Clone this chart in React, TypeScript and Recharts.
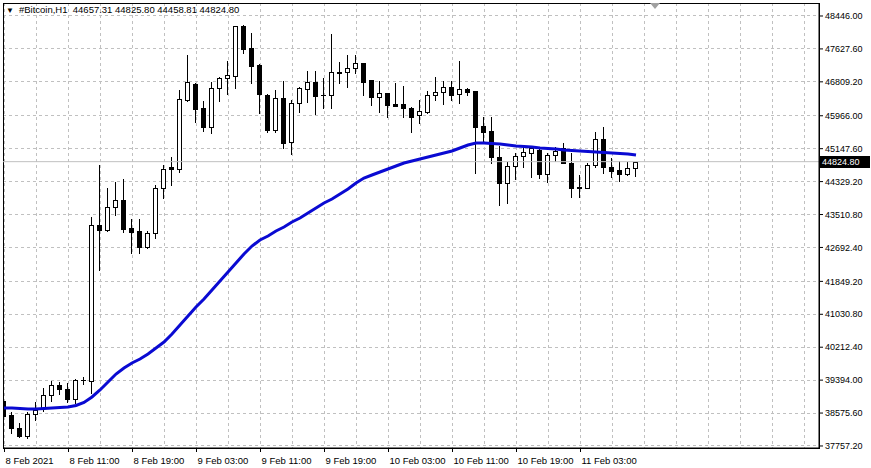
import { Bar, CartesianGrid, ComposedChart, Line, ReferenceArea, ReferenceLine, XAxis, YAxis } from 'recharts'

// hourly bars, 8 Feb 2021 03:00 .. 11 Feb 2021 10:00
const opens = [
  38875, 38527, 38204, 38005, 38552, 38701, 39024, 39273, 39173, 38925,
  39397, 39372, 43250, 43126, 43698, 43872, 43176, 43101, 42704, 43052,
  44170, 44692, 44643, 46358, 46756, 46159, 45687, 46656, 46905, 46955,
  48198, 47651, 47228, 46482, 45612, 46408, 45314, 46283, 46631, 46805,
  46482, 46482, 47054, 47054, 47153, 47278, 46855, 46433, 46532, 46259,
  46259, 46159, 45985, 46060, 46482, 46557, 46681, 46507, 46631, 46582,
  45712, 45587, 44941, 44295, 44717, 44966, 45040, 45115, 44518, 44991,
  45165, 44792, 44195, 44170, 44742, 45388, 44692, 44618, 44518, 44657.31,
]
const highs = [
  38925, 38602, 38328, 38602, 38850, 39198, 39372, 39347, 39323, 39422,
  39472, 43449, 44742, 44170, 44319, 44394, 43400, 43400, 43101, 44245,
  44742, 44941, 46607, 47477, 46781, 46333, 46805, 46930, 47327, 48198,
  48222, 48024, 47253, 46507, 46607, 46830, 46358, 46681, 47079, 47079,
  46905, 47999, 47303, 47477, 47477, 47278, 46855, 46830, 46532, 46781,
  46706, 46184, 46358, 46582, 46930, 46830, 46830, 47327, 46656, 46582,
  45935, 45935, 45214, 44817, 45040, 45190, 45190, 45190, 45040, 45190,
  45289, 45040, 44494, 44792, 45562, 45687, 44916, 44842, 44817, 44825.8,
]
const lows = [
  38428, 38080, 37980, 37955, 38403, 38627, 38875, 39049, 38850, 38825,
  39298, 39074, 42132, 43101, 43499, 43076, 42554, 42554, 42679, 42927,
  43922, 44245, 44568, 46333, 45811, 45587, 45538, 46333, 46507, 46656,
  47526, 46781, 46035, 45562, 45562, 45165, 45016, 46060, 46308, 46010,
  46159, 46159, 46781, 46681, 47029, 46482, 46234, 46060, 45935, 46209,
  45935, 45562, 45786, 46040, 46358, 46259, 46358, 46283, 46482, 44543,
  45339, 44792, 43748, 43797, 44394, 44692, 44444, 44419, 44319, 44842,
  44792, 43947, 43947, 44165, 44692, 44543, 44444, 44344, 44494, 44458.81,
]
const closes = [
  38502, 38204, 38005, 38552, 38651, 39024, 39273, 39173, 38925, 39397,
  39385, 43250, 43126, 43698, 43872, 43151, 43076, 42704, 43052, 44170,
  44643, 44643, 46383, 46805, 46134, 45687, 46656, 46905, 46979, 48198,
  47626, 47203, 46507, 45612, 46408, 45289, 46283, 46656, 46805, 46457,
  46470, 47054, 47029, 47153, 47278, 46805, 46433, 46532, 46234, 46215,
  46159, 45935, 46085, 46482, 46557, 46681, 46482, 46631, 46557, 45687,
  45562, 44941, 44295, 44717, 44966, 45065, 45165, 44518, 44991, 45090,
  44792, 44170, 44160, 44742, 45388, 44692, 44593, 44518, 44668, 44824.8,
]
const maValues = [
  38701, 38701, 38689, 38676, 38676, 38689, 38701, 38713, 38726, 38763,
  38838, 38975, 39149, 39347, 39546, 39695, 39820, 39919, 40044, 40193,
  40342, 40541, 40764, 40988, 41212, 41411, 41635, 41858, 42082, 42306,
  42530, 42728, 42878, 42977, 43101, 43201, 43325, 43424, 43549, 43673,
  43797, 43897, 44021, 44145, 44295, 44419, 44494, 44568, 44643, 44717,
  44792, 44842, 44891, 44941, 44991, 45040, 45090, 45165, 45239, 45289,
  45289, 45277, 45264, 45239, 45214, 45202, 45190, 45165, 45152, 45140,
  45115, 45103, 45090, 45078, 45065, 45053, 45040, 45028, 45016, 44991,
]
const timeLabels = [
  '8 Feb 2021', '8 Feb 11:00', '8 Feb 19:00', '9 Feb 03:00', '9 Feb 11:00',
  '9 Feb 19:00', '10 Feb 03:00', '10 Feb 11:00', '10 Feb 19:00', '11 Feb 03:00',
]
const priceTicks = [
  48446.0, 47627.6, 46809.2, 45966.0, 45147.6, 44329.2, 43510.8,
  42692.4, 41849.2, 41030.8, 40212.4, 39394.0, 38575.6, 37757.2,
]
const lastPrice = 44824.8
const headerText = '#Bitcoin,H1  44657.31 44825.80 44458.81 44824.80'

const FONT = '"Liberation Sans", Arial, sans-serif'
const X_MIN = -0.125
const X_MAX = 101.875
const Y_MIN = 37707
const Y_MAX = 48769

const chartData = opens.map((open, i) => ({
  i,
  open,
  high: highs[i],
  low: lows[i],
  close: closes[i],
  range: [lows[i], highs[i]],
  ma: maValues[i],
}))

const gridTicks = Array.from({ length: 26 }, (_, k) => k * 4)

function Candle(props: any) {
  const { x, y, width, height, payload } = props
  const { open, close, high, low } = payload
  const top = height >= 0 ? y : y + height
  const h = Math.abs(height)
  const span = high - low || 1
  const yOf = (v: number) => top + ((high - v) / span) * h
  const cx = Math.floor(x + width / 2) + 0.5
  const bodyTop = Math.round(yOf(Math.max(open, close))) + 0.5
  const bodyBottom = Math.round(yOf(Math.min(open, close))) + 0.5
  const bull = close >= open
  return (
    <g shapeRendering="crispEdges">
      <line x1={cx} x2={cx} y1={Math.round(top)} y2={Math.round(top + h) + 1} stroke="#000" />
      {bodyBottom - bodyTop < 1 ? (
        <line x1={cx - 2.5} x2={cx + 2.5} y1={bodyTop} y2={bodyTop} stroke="#000" />
      ) : (
        <rect
          x={cx - 2}
          y={bodyTop}
          width={4}
          height={bodyBottom - bodyTop}
          fill={bull ? '#fff' : '#000'}
          stroke="#000"
        />
      )}
    </g>
  )
}

function TimeTick({ x, y, payload }: any) {
  const idx = payload.value
  if (idx % 8 !== 0 || idx >= opens.length) return null
  const px = Math.round(x) + 0.5
  return (
    <g>
      <line x1={px} x2={px} y1={448} y2={452} stroke="#000" shapeRendering="crispEdges" />
      <text x={px + 1} y={y + 8} fontSize={9.5} fontFamily={FONT} fill="#000" textAnchor="start">
        {timeLabels[idx / 8]}
      </text>
    </g>
  )
}

function PriceTag({ viewBox }: any) {
  const left = viewBox.x + viewBox.width
  const cy = Math.round(viewBox.y)
  return (
    <g>
      <rect x={left} y={cy - 6} width={51} height={12} fill="#000" />
      <text x={left + 3} y={cy + 3} fontSize={9} fontFamily={FONT} fill="#fff">
        {lastPrice.toFixed(2)}
      </text>
    </g>
  )
}

export default function App() {
  return (
    <div style={{ position: 'absolute', left: 0, top: 0, width: 871, height: 468, background: '#fff' }}>
      <ComposedChart
        width={871}
        height={468}
        data={chartData}
        margin={{ top: 3, right: 0, bottom: 0, left: 3 }}
      >
        <CartesianGrid stroke="#c0c0c0" strokeDasharray="3 3" shapeRendering="crispEdges" />
        <XAxis
          dataKey="i"
          type="number"
          domain={[X_MIN, X_MAX]}
          ticks={gridTicks}
          interval={0}
          allowDataOverflow
          height={20}
          tickLine={false}
          axisLine={{ stroke: '#000' }}
          tick={<TimeTick />}
        />
        <YAxis
          orientation="right"
          type="number"
          domain={[Y_MIN, Y_MAX]}
          ticks={priceTicks}
          interval={0}
          allowDataOverflow
          width={52}
          tickSize={4}
          tickMargin={2}
          tickLine={{ stroke: '#000' }}
          axisLine={{ stroke: '#000' }}
          tick={{ fontSize: 9, fontFamily: FONT, fill: '#000', textAnchor: 'start' }}
          tickFormatter={(v: number) => v.toFixed(2)}
        />
        <ReferenceLine y={lastPrice} stroke="#c0c0c0" label={<PriceTag />} />
        <Bar dataKey="range" barSize={5} shape={<Candle />} isAnimationActive={false} />
        <Line
          type="linear"
          dataKey="ma"
          stroke="#0a0ad2"
          strokeWidth={3}
          dot={false}
          activeDot={false}
          isAnimationActive={false}
        />
        <ReferenceArea
          x1={X_MIN}
          x2={X_MAX}
          y1={Y_MIN}
          y2={Y_MAX}
          fill="none"
          fillOpacity={0}
          stroke="#000"
          strokeOpacity={1}
          shapeRendering="crispEdges"
        />
      </ComposedChart>
      <div
        style={{
          position: 'absolute',
          left: 6,
          top: 5,
          fontFamily: FONT,
          fontSize: 9.5,
          lineHeight: '10px',
          color: '#000',
          whiteSpace: 'pre',
        }}
      >
        <span style={{ fontSize: 8, marginRight: 5 }}>▼</span>
        {headerText}
      </div>
      <div
        style={{
          position: 'absolute',
          left: 650,
          top: 3,
          width: 0,
          height: 0,
          borderLeft: '5px solid transparent',
          borderRight: '5px solid transparent',
          borderTop: '6px solid #a0a0a0',
        }}
      />
    </div>
  )
}
